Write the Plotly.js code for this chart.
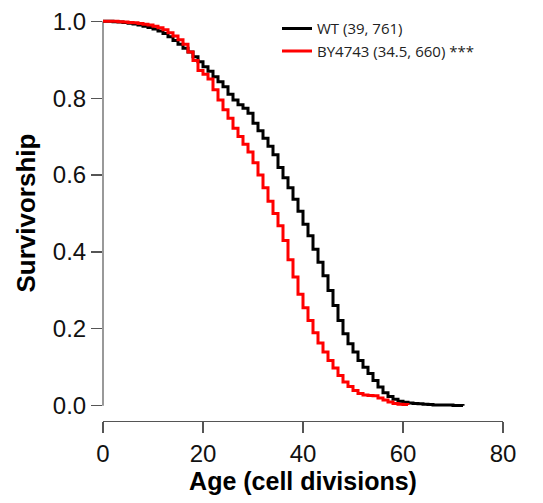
<!DOCTYPE html>
<html>
<head>
<meta charset="utf-8">
<script src="https://cdn.plot.ly/plotly-3.0.1.min.js"></script>
<style>html,body{margin:0;padding:0;background:#fff;}#chart{width:543px;height:503px;}</style>
</head>
<body>
<div id="chart"></div>
<script>
// Survival curves (fraction alive) at each age in cell divisions
const wtAges = [0,1,2,3,4,5,6,7,8,9,10,11,12,13,14,15,16,17,18,19,20,21,22,23,24,25,26,27,28,29,30,31,32,33,34,35,36,37,38,39,40,41,42,43,44,45,46,47,48,49,50,51,52,53,54,55,56,57,58,59,60,61,62,63,64,65,66,70,72];
const wtSurv = [1.0,1.0,0.999,0.998,0.997,0.995,0.993,0.99,0.987,0.984,0.98,0.975,0.968,0.96,0.95,0.94,0.93,0.92,0.908,0.895,0.882,0.87,0.856,0.843,0.83,0.81,0.795,0.783,0.774,0.761,0.735,0.715,0.696,0.675,0.653,0.62,0.593,0.567,0.537,0.506,0.472,0.442,0.407,0.373,0.338,0.3,0.261,0.222,0.187,0.161,0.14,0.118,0.1,0.084,0.066,0.049,0.034,0.024,0.017,0.012,0.009,0.007,0.006,0.005,0.004,0.003,0.002,0.001,0.0];
const byAges = [0,1,2,3,4,5,6,7,8,9,10,11,12,13,14,15,16,17,18,19,20,21,22,23,24,25,26,27,28,29,30,31,32,33,34,35,36,37,38,39,40,41,42,43,44,45,46,47,48,49,50,51,52,53,54,55,56,57,58,59,60,61];
const bySurv = [1.0,1.0,1.0,0.999,0.998,0.997,0.996,0.994,0.992,0.99,0.987,0.983,0.978,0.97,0.962,0.952,0.94,0.92,0.898,0.872,0.862,0.85,0.822,0.795,0.77,0.748,0.722,0.7,0.68,0.66,0.632,0.6,0.567,0.532,0.5,0.468,0.43,0.38,0.335,0.29,0.255,0.222,0.19,0.163,0.14,0.118,0.098,0.079,0.062,0.05,0.04,0.032,0.028,0.027,0.026,0.02,0.015,0.01,0.006,0.004,0.003,0.002];
const seriesNames = ['WT (39, 761)', 'BY4743 (34.5, 660) ***'];
const xTicks = [0,20,40,60,80];
const yTicks = [0,0.2,0.4,0.6,0.8,1.0];
const yTickText = ['0.0','0.2','0.4','0.6','0.8','1.0'];
const xTitle = 'Age (cell divisions)';
const yTitle = 'Survivorship';

const traces = [
  {x: wtAges, y: wtSurv, name: seriesNames[0], mode: 'lines', line: {shape: 'hv', color: '#000000', width: 3}, cliponaxis: false},
  {x: byAges, y: bySurv, name: seriesNames[1], mode: 'lines', line: {shape: 'hv', color: '#ff0000', width: 3}, cliponaxis: false}
];

const axisColor = '#555555';
const titleFont = {family: 'Liberation Sans, Arial, sans-serif', size: 25, color: '#000000', weight: 'bold'};
const layout = {
  width: 543, height: 503,
  margin: {l: 103, r: 40, t: 15, b: 82, pad: 0},
  paper_bgcolor: '#ffffff', plot_bgcolor: '#ffffff',
  showlegend: true,
  legend: {x: 0.435, y: 1.012, xanchor: 'left', yanchor: 'top', bgcolor: 'rgba(0,0,0,0)',
           font: {family: 'Open Sans, sans-serif', size: 15, color: '#222222'}},
  xaxis: {range: [0, 80], tickvals: xTicks, ticks: 'outside', ticklen: 11, tickwidth: 1.2, tickcolor: axisColor,
          showline: true, linecolor: axisColor, linewidth: 1.2, showgrid: false, zeroline: false,
          tickfont: {family: 'Liberation Sans, Arial, sans-serif', size: 24, color: '#111111'},
          title: {text: xTitle, standoff: 5, font: titleFont}},
  yaxis: {range: [-0.0396, 1.0111], tickvals: yTicks, ticktext: yTickText, ticks: 'outside', ticklen: 11, tickwidth: 1.2, tickcolor: axisColor,
          showline: false, showgrid: false, zeroline: false,
          tickfont: {family: 'Liberation Sans, Arial, sans-serif', size: 24, color: '#111111'}},
  annotations: [
    {text: yTitle, xref: 'paper', yref: 'y', x: -0.1925, y: 0.5, textangle: -90, showarrow: false,
     xanchor: 'center', yanchor: 'middle', font: {family: 'Liberation Sans, Arial, sans-serif', size: 26, color: '#000000', weight: 'bold'}}
  ],
  shapes: [
    {type: 'line', xref: 'paper', yref: 'y', x0: 0, x1: 0, y0: 0, y1: 1, line: {color: axisColor, width: 1.2}, layer: 'below'}
  ]
};

Plotly.newPlot('chart', traces, layout, {staticPlot: true, displayModeBar: false});
</script>
</body>
</html>
